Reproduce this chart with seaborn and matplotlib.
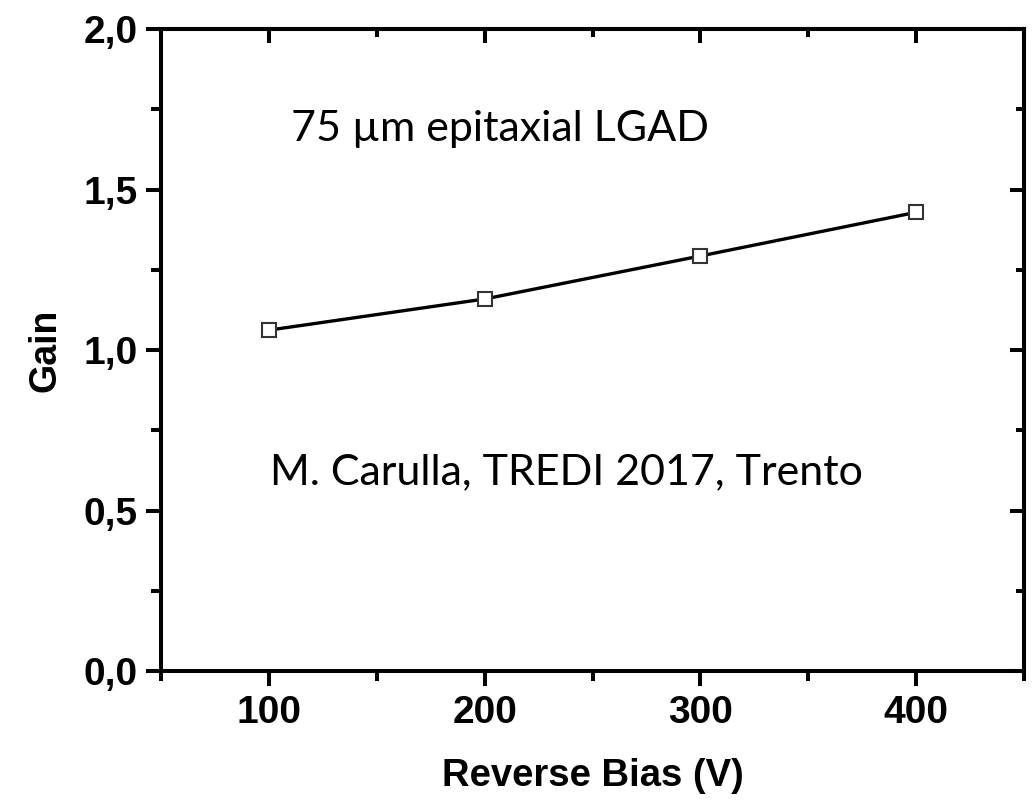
import matplotlib
matplotlib.use("Agg")
import matplotlib.pyplot as plt
import seaborn as sns
import pandas as pd
from matplotlib.ticker import MultipleLocator, FuncFormatter

bias = [100, 200, 300, 400]
gain = [1.062, 1.159, 1.293, 1.429]

sns.set_theme(style="ticks")
plt.rcParams['font.family'] = ['Liberation Sans', 'DejaVu Sans']
plt.rcParams.update({"text.color": "black", "axes.labelcolor": "black",
                     "xtick.color": "black", "ytick.color": "black",
                     "xtick.labelcolor": "black", "ytick.labelcolor": "black"})

df = pd.DataFrame({"Reverse Bias (V)": bias, "Gain": gain})

fig = plt.figure(figsize=(10.33, 8.02), dpi=100)
ax = fig.add_axes([0.1559, 0.1633, 0.9913 - 0.1559, 0.9638 - 0.1633])

sns.lineplot(data=df, x="Reverse Bias (V)", y="Gain", ax=ax, color="black",
             linewidth=2.4, marker="s", markersize=10, markerfacecolor="white",
             markeredgecolor="#333333", markeredgewidth=1.5)

ax.set_xlim(50, 450)
ax.set_ylim(0, 2.0)
ax.xaxis.set_major_locator(MultipleLocator(100))
ax.xaxis.set_minor_locator(MultipleLocator(50))
ax.yaxis.set_major_locator(MultipleLocator(0.5))
ax.yaxis.set_minor_locator(MultipleLocator(0.25))
ax.yaxis.set_major_formatter(FuncFormatter(lambda v, p: f"{v:.1f}".replace(".", ",")))

for s in ax.spines.values():
    s.set_linewidth(2.9)
    s.set_color("black")

ax.tick_params(axis="both", which="major", direction="out", length=11, width=2.9,
               labelsize=28, color="black", labelcolor="black", pad=6)
ax.tick_params(axis="both", which="minor", direction="out", length=7, width=2.9, color="black")
for lab in ax.get_xticklabels() + ax.get_yticklabels():
    lab.set_fontweight("bold")

# top/right inward ticks via secondary axes
sec_x = ax.secondary_xaxis("top")
sec_x.xaxis.set_major_locator(MultipleLocator(100))
sec_x.xaxis.set_minor_locator(MultipleLocator(50))
sec_x.tick_params(which="major", direction="in", length=10, width=2.9, labeltop=False, color="black")
sec_x.tick_params(which="minor", direction="in", length=6, width=2.9, color="black")
sec_x.spines["top"].set_linewidth(2.9)
sec_x.spines["top"].set_color("black")
sec_y = ax.secondary_yaxis("right")
sec_y.yaxis.set_major_locator(MultipleLocator(0.5))
sec_y.yaxis.set_minor_locator(MultipleLocator(0.25))
sec_y.tick_params(which="major", direction="in", length=10, width=2.9, labelright=False, color="black")
sec_y.tick_params(which="minor", direction="in", length=6, width=2.9, color="black")
sec_y.spines["right"].set_linewidth(2.9)
sec_y.spines["right"].set_color("black")

ax.set_xlabel("Reverse Bias (V)", fontsize=27.5, fontweight="bold", labelpad=20, color="black")
ax.set_ylabel("Gain", fontsize=27, fontweight="bold", labelpad=14, color="black")

ax.text(207, 1.69, "75 µm epitaxial LGAD", fontsize=31, family=["Lato", "DejaVu Sans"],
        ha="center", va="center", color="black")
ax.text(238, 0.62, "M. Carulla, TREDI 2017, Trento", fontsize=31, family=["Lato", "DejaVu Sans"],
        ha="center", va="center", color="black")

fig.savefig("out.png", dpi=100, facecolor="white")
